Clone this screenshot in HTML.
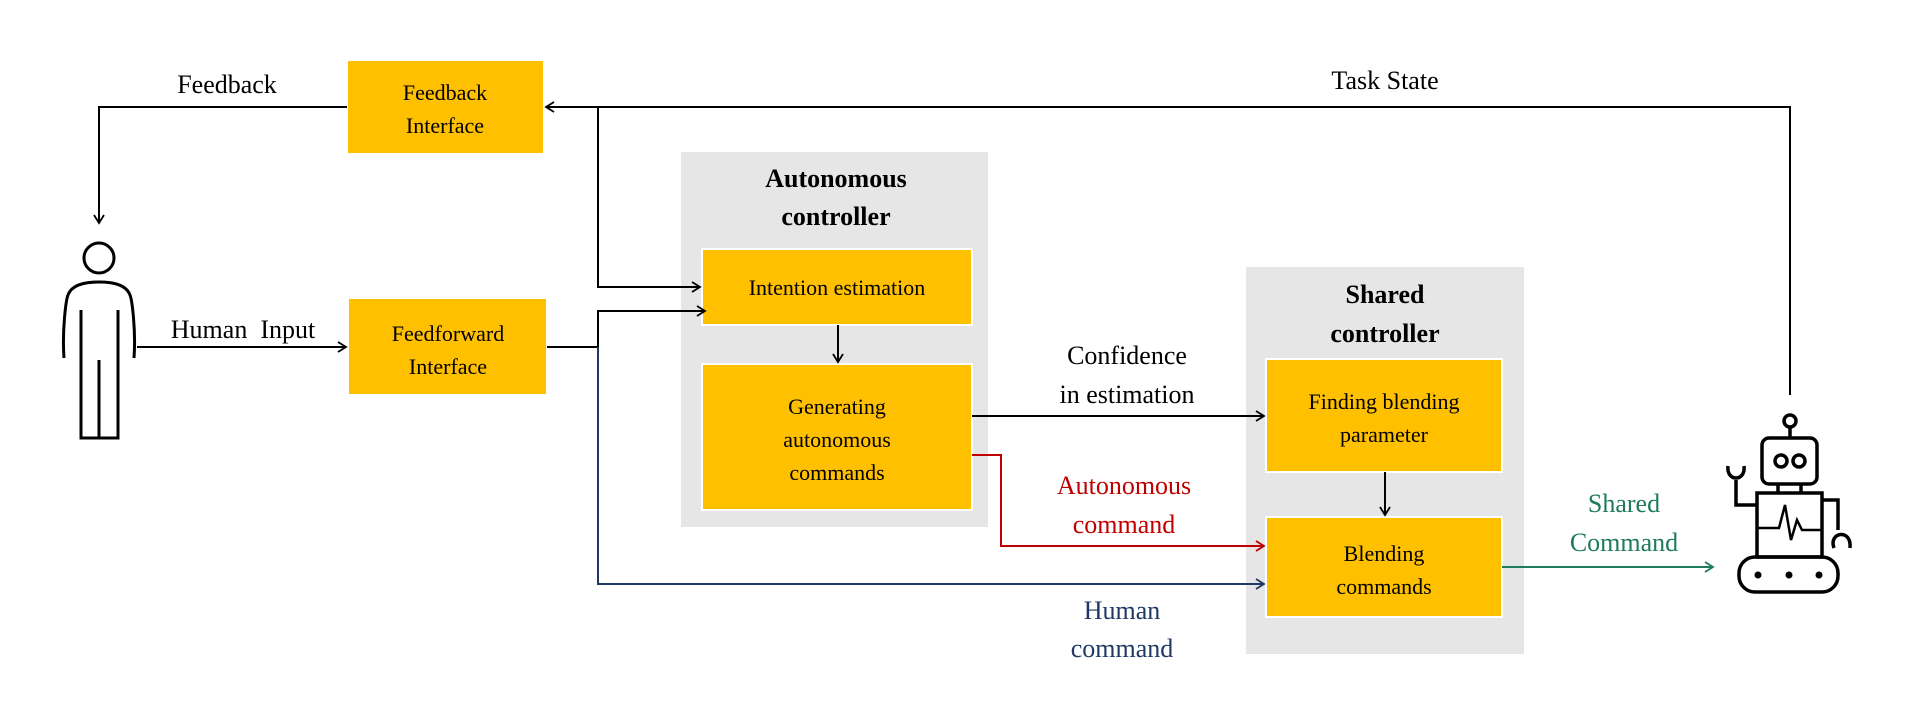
<!DOCTYPE html>
<html><head><style>
html,body{margin:0;padding:0;background:#fff;}
svg{display:block;}
text{font-family:"Liberation Serif",serif;}
</style></head><body>
<svg width="1928" height="714" viewBox="0 0 1928 714" xmlns="http://www.w3.org/2000/svg">
<defs>
<marker id="ak" markerWidth="12" markerHeight="12" refX="10" refY="6" orient="auto" markerUnits="userSpaceOnUse"><path d="M2,1 L10,6 L2,11" fill="none" stroke="#000" stroke-width="1.8"/></marker>
<marker id="ar" markerWidth="12" markerHeight="12" refX="10" refY="6" orient="auto" markerUnits="userSpaceOnUse"><path d="M2,1 L10,6 L2,11" fill="none" stroke="#C00000" stroke-width="1.8"/></marker>
<marker id="ab" markerWidth="12" markerHeight="12" refX="10" refY="6" orient="auto" markerUnits="userSpaceOnUse"><path d="M2,1 L10,6 L2,11" fill="none" stroke="#203864" stroke-width="1.8"/></marker>
<marker id="ag" markerWidth="12" markerHeight="12" refX="10" refY="6" orient="auto" markerUnits="userSpaceOnUse"><path d="M2,1 L10,6 L2,11" fill="none" stroke="#1E7B5E" stroke-width="1.8"/></marker>
</defs>

<!-- gray containers -->
<rect x="681" y="152" width="307" height="375" fill="#E6E6E6"/>
<rect x="1246" y="267" width="278" height="387" fill="#E6E6E6"/>

<!-- orange boxes -->
<g fill="#FFC000" stroke="#fff" stroke-width="2">
<rect x="347" y="60" width="197" height="94"/>
<rect x="348" y="298" width="199" height="97"/>
<rect x="702" y="249" width="270" height="76"/>
<rect x="702" y="364" width="270" height="146"/>
<rect x="1266" y="359" width="236" height="113"/>
<rect x="1266" y="517" width="236" height="100"/>
</g>

<!-- connectors -->
<g fill="none" stroke="#000" stroke-width="2">
<polyline points="1790,395 1790,107 546,107" marker-end="url(#ak)"/>
<polyline points="347,107 99,107 99,223" marker-end="url(#ak)"/>
<polyline points="598,107 598,287 700,287" marker-end="url(#ak)"/>
<polyline points="547,347 598,347 598,311 705,311" marker-end="url(#ak)"/>
<line x1="137" y1="347" x2="346" y2="347" marker-end="url(#ak)"/>
<line x1="838" y1="325" x2="838" y2="362" marker-end="url(#ak)"/>
<line x1="972" y1="416" x2="1264" y2="416" marker-end="url(#ak)"/>
<line x1="1385" y1="472" x2="1385" y2="515" marker-end="url(#ak)"/>
</g>
<polyline points="972,455 1001,455 1001,546 1264,546" fill="none" stroke="#C00000" stroke-width="2" marker-end="url(#ar)"/>
<polyline points="598,347 598,584 1264,584" fill="none" stroke="#203864" stroke-width="2" marker-end="url(#ab)"/>
<line x1="1502" y1="567" x2="1713" y2="567" stroke="#1E7B5E" stroke-width="2" marker-end="url(#ag)"/>

<!-- box text -->
<g font-size="22" text-anchor="middle" fill="#000">
<text x="445" y="100">Feedback</text>
<text x="445" y="133">Interface</text>
<text x="448" y="341">Feedforward</text>
<text x="448" y="374">Interface</text>
<text x="837" y="295">Intention estimation</text>
<text x="837" y="414">Generating</text>
<text x="837" y="447">autonomous</text>
<text x="837" y="480">commands</text>
<text x="1384" y="409">Finding blending</text>
<text x="1384" y="442">parameter</text>
<text x="1384" y="561">Blending</text>
<text x="1384" y="594">commands</text>
</g>
<g font-size="26" font-weight="bold" text-anchor="middle">
<text x="836" y="187">Autonomous</text>
<text x="836" y="225">controller</text>
<text x="1385" y="303">Shared</text>
<text x="1385" y="342">controller</text>
</g>
<g font-size="26" text-anchor="middle">
<text x="227" y="93">Feedback</text>
<text x="243" y="338">Human&#160; Input</text>
<text x="1385" y="89">Task State</text>
<text x="1127" y="364">Confidence</text>
<text x="1127" y="403">in estimation</text>
<text x="1124" y="494" fill="#C00000">Autonomous</text>
<text x="1124" y="533" fill="#C00000">command</text>
<text x="1122" y="619" fill="#203864">Human</text>
<text x="1122" y="657" fill="#203864">command</text>
<text x="1624" y="512" fill="#1E7B5E">Shared</text>
<text x="1624" y="551" fill="#1E7B5E">Command</text>
</g>

<!-- person -->
<g fill="none" stroke="#000" stroke-width="3">
<circle cx="99" cy="258" r="15"/>
<path d="M64,358 C62,330 66,300 68,295 C72,284 86,282 99,282 C112,282 126,284 130,295 C132,300 136,330 134,358"/>
<path d="M81,310 L81,438 L118,438 L118,310"/>
<line x1="99" y1="360" x2="99" y2="438"/>
</g>

<!-- robot -->
<g fill="none" stroke="#000" stroke-width="3.5">
<circle cx="1790" cy="421" r="6"/>
<line x1="1790" y1="427" x2="1790" y2="438"/>
<rect x="1762" y="438" width="55" height="46" rx="7"/>
<circle cx="1781" cy="461" r="6"/>
<circle cx="1799" cy="461" r="6"/>
<line x1="1778" y1="484" x2="1778" y2="493"/>
<line x1="1801" y1="484" x2="1801" y2="493"/>
<rect x="1757" y="493" width="65" height="64"/>
<polyline points="1757,528 1779,528 1785,505 1791,540 1797,520 1802,530 1822,530" stroke-width="2.5"/>
<rect x="1739" y="557" width="99" height="35" rx="16"/>
<polyline points="1757,505 1736,505 1736,480"/>
<path d="M1728,466 C1726,482 1746,482 1744,466"/>
<polyline points="1822,500 1838,500 1838,530"/>
<path d="M1834,548 C1828,532 1852,528 1850,548"/>
</g>
<g fill="#000">
<circle cx="1758" cy="575" r="3.5"/>
<circle cx="1789" cy="575" r="3.5"/>
<circle cx="1819" cy="575" r="3.5"/>
</g>
</svg>
</body></html>
